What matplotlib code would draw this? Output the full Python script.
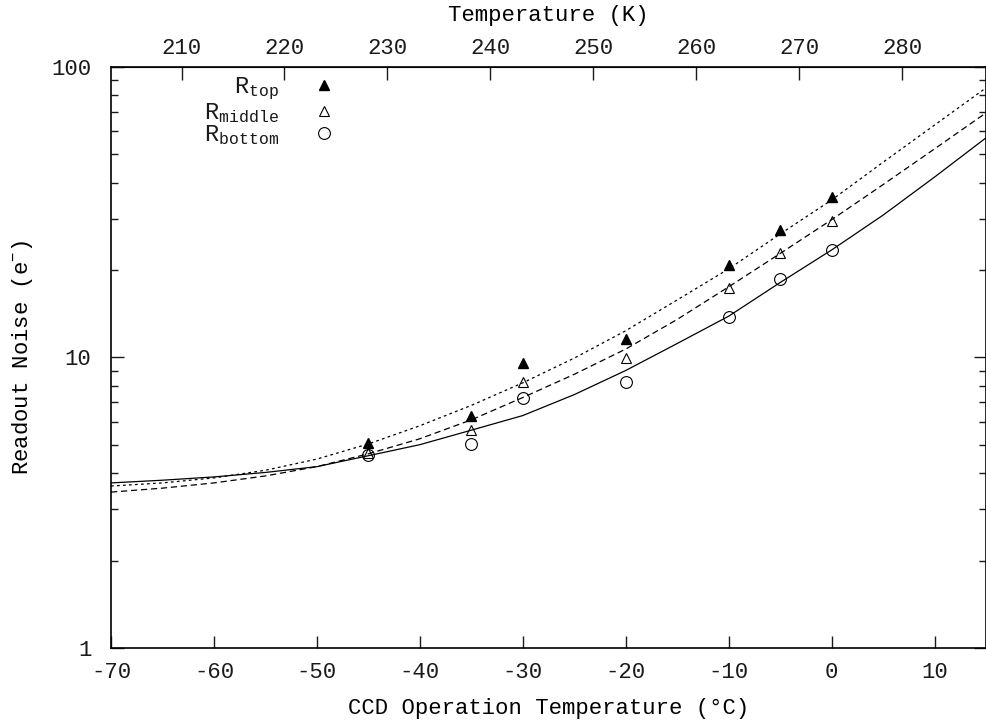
import matplotlib
matplotlib.use("Agg")
import matplotlib.pyplot as plt
from matplotlib.lines import Line2D

plt.rcParams['font.family'] = ['Liberation Mono', 'DejaVu Sans Mono']
plt.rcParams['mathtext.fontset'] = 'custom'
plt.rcParams['mathtext.rm'] = 'Liberation Mono'
plt.rcParams['mathtext.it'] = 'Liberation Mono'
plt.rcParams['axes.unicode_minus'] = False
plt.rcParams['text.color'] = '#1a1a1a'
plt.rcParams['xtick.color'] = '#1a1a1a'
plt.rcParams['ytick.color'] = '#1a1a1a'

# measured points (deg C, electrons)
temps = [-45, -35, -30, -20, -10, -5, 0]
r_top = [5.07, 6.29, 9.57, 11.6, 20.8, 27.5, 35.7]
r_middle = [4.69, 5.63, 8.26, 9.94, 17.3, 22.9, 29.5]
r_bottom = [4.62, 5.04, 7.24, 8.26, 13.8, 18.7, 23.5]

# fit curves
t_fit = [-70, -65, -60, -55, -50, -45, -40, -35, -30, -25, -20, -15, -10, -5, 0, 5, 10, 15]
fit_top = [3.61, 3.70, 3.85, 4.09, 4.47, 5.04, 5.82, 6.84, 8.18, 9.95, 12.36, 15.78,
           20.18, 26.61, 34.83, 46.99, 63.10, 84.72]
fit_middle = [3.44, 3.55, 3.70, 3.91, 4.21, 4.66, 5.25, 6.10, 7.28, 8.75, 10.69, 13.52,
              17.50, 22.80, 29.79, 39.36, 52.24, 69.50]
fit_bottom = [3.70, 3.78, 3.88, 4.02, 4.21, 4.59, 5.01, 5.62, 6.31, 7.45, 9.02, 11.17,
              13.87, 18.11, 23.44, 30.90, 41.78, 57.02]

x_ticks = [-70, -60, -50, -40, -30, -20, -10, 0, 10]
k_ticks = [210, 220, 230, 240, 250, 260, 270, 280]

fs = 16

fig = plt.figure(figsize=(9.86, 7.24), dpi=100)
ax = fig.add_axes([0.1126, 0.105, 0.8874, 0.8025])

# fits
ax.plot(t_fit, fit_top, color='black', lw=0.9, linestyle=(0, (2.2, 2.6)))
ax.plot(t_fit, fit_middle, color='black', lw=0.9, linestyle=(0, (5, 3)))
ax.plot(t_fit, fit_bottom, color='black', lw=0.9, linestyle='-')

# data points
ax.plot(temps, r_top, linestyle='none', marker='^', ms=7.5, color='black')
ax.plot(temps, r_middle, linestyle='none', marker='^', ms=7.5, mfc='none', mec='black', mew=0.8)
ax.plot(temps, r_bottom, linestyle='none', marker='o', ms=8.5, mfc='none', mec='black', mew=0.8)

ax.set_yscale('log')
ax.set_xlim(-70, 15)
ax.set_ylim(1, 100)
ax.set_xticks(x_ticks)
ax.set_yticks([1, 10, 100])
ax.set_yticklabels(['1', '10', '100'])
ax.tick_params(axis='x', which='major', direction='in', length=9, width=1,
               labelsize=fs, pad=10, top=False)
ax.tick_params(axis='y', which='major', direction='in', length=9, width=1,
               labelsize=fs, pad=14, right=True)
ax.tick_params(axis='y', which='minor', direction='in', length=5, width=1, right=True)
for s in ax.spines.values():
    s.set_linewidth(1.2)

ax.set_xlabel('CCD Operation Temperature (°C)', fontsize=fs, labelpad=11)
ax.set_ylabel(r'Readout Noise (e$^{\mathrm{-}}$)', fontsize=fs, labelpad=12)

# kelvin axis on top
top = ax.secondary_xaxis('top', functions=(lambda c: c + 273.15, lambda k: k - 273.15))
top.set_xticks(k_ticks)
top.tick_params(direction='in', length=9, width=1, labelsize=fs, pad=6)
top.set_xlabel('Temperature (K)', fontsize=fs, labelpad=12)

handles = [
    Line2D([], [], linestyle='none', marker='^', ms=7.5, color='black'),
    Line2D([], [], linestyle='none', marker='^', ms=7.5, mfc='none', mec='black', mew=0.8),
    Line2D([], [], linestyle='none', marker='o', ms=8.5, mfc='none', mec='black', mew=0.8),
]
labels = [r'R$_{\mathrm{top}}$', r'R$_{\mathrm{middle}}$', r'R$_{\mathrm{bottom}}$']
ax.legend(handles, labels, loc='upper left', bbox_to_anchor=(0.082, 1.022), frameon=False,
          markerfirst=False, fontsize=17, handletextpad=1.4, labelspacing=-0.06,
          handlelength=1.0)

fig.savefig('out.png', dpi=100)
